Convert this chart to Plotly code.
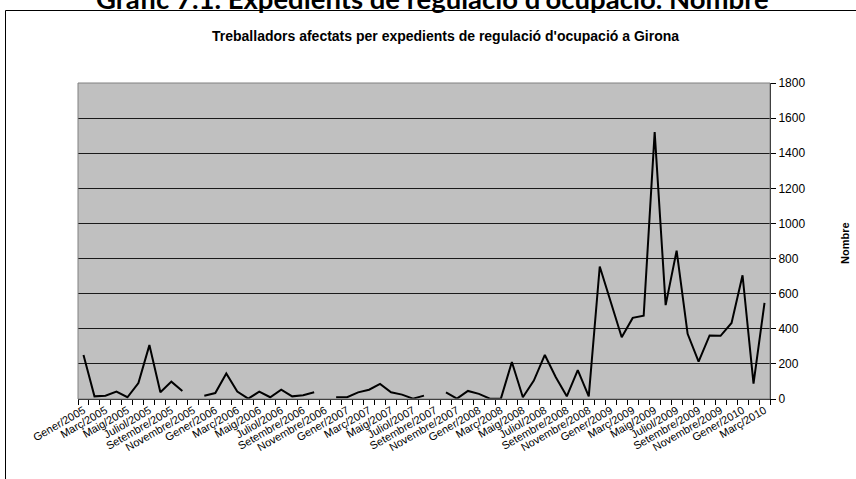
import plotly.graph_objects as go

# Month categories (Catalan), January 2005 to March 2010
month_names = ["Gener", "Febrer", "Març", "Abril", "Maig", "Juny", "Juliol",
               "Agost", "Setembre", "Octubre", "Novembre", "Desembre"]
years = [2005, 2006, 2007, 2008, 2009, 2010]
months = [f"{m}/{y}" for y in years for m in month_names][:63]

# Affected workers per month (None = no data)
workers_2005 = [250, 15, 19, 42, 10, 91, 307, 38, 99, 46, None, 19]
workers_2006 = [34, 145, 42, 2, 42, 10, 53, 15, 21, 38, None, 10]
workers_2007 = [10, 38, 53, 86, 38, 25, 2, 19, None, 38, 2, 46]
workers_2008 = [29, 2, 2, 211, 10, 105, 251, 124, 15, 164, 15, 755]
workers_2009 = [555, 352, 462, 475, 1520, 535, 845, 371, 213, 362, 360, 433]
workers_2010 = [705, 88, 548]
workers = (workers_2005 + workers_2006 + workers_2007 + workers_2008
           + workers_2009 + workers_2010)

# Label every second month
tick_text = [m if i % 2 == 0 else "" for i, m in enumerate(months)]
y_ticks = list(range(0, 1801, 200))

W, H = 856, 479
L, R, T, B = 78, 86, 83, 80
plot_h = H - T - B
plot_w = W - L - R


def py(pix):
    """Convert a pixel row (from top) into paper y."""
    return (H - B - pix) / plot_h


def px(pix):
    """Convert a pixel column into paper x."""
    return (pix - L) / plot_w


fig = go.Figure()
fig.add_trace(go.Scatter(
    x=months, y=workers, mode="lines",
    line=dict(color="black", width=2),
    connectgaps=False, hoverinfo="x+y",
))

fig.update_layout(
    width=W, height=H,
    margin=dict(l=L, r=R, t=T, b=B),
    paper_bgcolor="white",
    plot_bgcolor="#C0C0C0",
    showlegend=False,
    font=dict(family="Liberation Sans, Arial, sans-serif", color="black"),
    xaxis=dict(
        type="category",
        categoryorder="array", categoryarray=months,
        range=[-0.5, len(months) - 0.5],
        tickmode="array", tickvals=months, ticktext=tick_text,
        tickson="boundaries",
        ticks="outside", ticklen=5, tickcolor="black", tickwidth=1,
        tickangle=-30,
        tickfont=dict(size=11),
        showline=True, linecolor="black", linewidth=1,
        showgrid=False, zeroline=False,
    ),
    yaxis=dict(
        side="right",
        range=[0, 1800],
        tickmode="array", tickvals=y_ticks,
        ticks="outside", ticklen=5, tickcolor="black",
        tickfont=dict(size=12),
        showline=True, linecolor="black", linewidth=1,
        showgrid=True, gridcolor="#1a1a1a", gridwidth=1,
        zeroline=False,
    ),
)

# Plot-area border
fig.add_shape(type="rect", xref="paper", yref="paper",
              x0=0, x1=1, y0=0, y1=1,
              line=dict(color="#808080", width=1), layer="above")

# Chart frame (runs past the right and bottom edges)
fig.add_shape(type="rect", xref="paper", yref="paper",
              x0=px(5.5), x1=px(W + 20), y0=py(H + 20), y1=py(10.5),
              line=dict(color="black", width=1), layer="above")

# Outer heading
fig.add_annotation(
    text="<b>Gràfic 7.1. Expedients de regulació d'ocupació. Nombre</b>",
    xref="paper", yref="paper", x=px(432), y=py(17),
    xanchor="center", yanchor="bottom", showarrow=False,
    font=dict(family="Lato, sans-serif", size=27.5, color="black"),
)

# Chart title
fig.add_annotation(
    text="<b>Treballadors afectats per expedients de regulació d'ocupació a Girona</b>",
    xref="paper", yref="paper", x=px(445), y=py(36),
    xanchor="center", yanchor="middle", showarrow=False,
    font=dict(size=14, color="black"),
)

# Value axis title
fig.add_annotation(
    text="<b>Nombre</b>",
    xref="paper", yref="paper", x=px(845), y=py(243),
    xanchor="center", yanchor="middle", showarrow=False,
    textangle=-90,
    font=dict(size=11, color="black"),
)

fig.write_html("out.html")
